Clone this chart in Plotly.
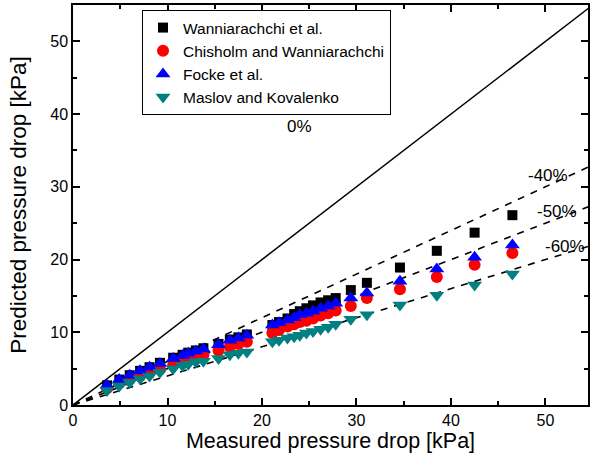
import plotly.graph_objects as go

measured = [3.6, 4.9, 6.0, 7.1, 8.1, 9.2, 10.6, 11.6, 12.2, 13.0, 13.8, 15.4, 16.6, 17.5, 18.4,
            21.1, 21.8, 22.7, 23.4, 24.0, 24.7, 25.4, 26.2, 27.0, 27.8, 29.4, 31.1, 34.6, 38.5, 42.5, 46.5]
wanniarachchi = [2.7, 3.5, 4.1, 4.7, 5.2, 5.8, 6.5, 6.9, 7.2, 7.5, 7.8, 8.4, 9.0, 9.3, 9.7,
                 11.0, 11.4, 11.9, 12.5, 12.9, 13.3, 13.7, 14.1, 14.4, 14.7, 15.8, 16.8, 18.9, 21.2, 23.7, 26.1]
chisholm = [2.3, 3.0, 3.5, 4.0, 4.4, 4.9, 5.5, 5.9, 6.2, 6.5, 6.9, 7.5, 8.0, 8.4, 8.7,
            9.9, 10.3, 10.8, 11.1, 11.4, 11.6, 11.9, 12.3, 12.6, 13.0, 13.6, 14.7, 15.9, 17.6, 19.3, 20.9]
focke = [2.7, 3.5, 4.1, 4.7, 5.2, 5.7, 6.4, 6.8, 7.1, 7.4, 7.7, 8.3, 8.9, 9.2, 9.6,
         11.0, 11.3, 11.7, 12.0, 12.4, 12.6, 12.9, 13.3, 13.6, 14.0, 14.7, 15.4, 17.0, 18.7, 20.3, 22.0]
maslov = [2.0, 2.6, 3.1, 3.6, 4.0, 4.5, 5.0, 5.4, 5.6, 5.9, 6.0, 6.4, 6.9, 7.1, 7.3,
          8.7, 8.9, 9.2, 9.4, 9.6, 9.9, 10.1, 10.4, 10.7, 11.1, 11.8, 12.4, 13.75, 15.1, 16.5, 18.0]

series_names = ["Wanniarachchi et al.", "Chisholm and Wanniarachchi", "Focke et al.", "Maslov and Kovalenko"]
series_values = [wanniarachchi, chisholm, focke, maslov]
series_colors = ["#000000", "#FF0000", "#0000FF", "#008080"]
series_symbols = ["square", "circle", "triangle-up", "triangle-down"]
series_sizes = [10, 12, 13, 13]

deviation_slopes = [0.6, 0.5, 0.4]
deviation_labels = ["-40%", "-50%", "-60%"]
line_x = [0, 55]
tick_vals = [0, 10, 20, 30, 40, 50]

FONT = "Liberation Sans, Arial, sans-serif"

fig = go.Figure()

# 0% line
fig.add_trace(go.Scatter(x=line_x, y=line_x, mode="lines", line=dict(color="black", width=1.5),
                         showlegend=False, hoverinfo="skip"))
for s in deviation_slopes:
    fig.add_trace(go.Scatter(x=line_x, y=[v * s for v in line_x], mode="lines",
                             line=dict(color="black", width=1.6, dash="7px,7px"),
                             showlegend=False, hoverinfo="skip"))

for name, vals, col, sym, sz in zip(series_names, series_values, series_colors, series_symbols, series_sizes):
    fig.add_trace(go.Scatter(x=measured, y=vals, mode="markers", name=name,
                             marker=dict(symbol=sym, color=col, size=sz, line=dict(width=0))))

annots = [dict(x=24.0, y=38.3, text="0%")]
ann_pos = [(50.3, 31.6), (51.2, 26.6), (52.1, 21.8)]
for (ax, ay), lab in zip(ann_pos, deviation_labels):
    annots.append(dict(x=ax, y=ay, text=lab))
for a in annots:
    a.update(xref="x", yref="y", showarrow=False, font=dict(family=FONT, size=17, color="black"))

axis_common = dict(showline=True, linecolor="black", linewidth=1.5, mirror="ticks", ticks="inside",
                   ticklen=7, tickwidth=1.5, tickcolor="black", showgrid=False, zeroline=False,
                   automargin=False,
                   tickvals=tick_vals, tickfont=dict(family=FONT, size=16, color="black"),
                   minor=dict(ticks="inside", ticklen=4, tickwidth=1.5, tickcolor="black", dtick=5, tick0=0,
                              showgrid=False))

fig.update_layout(
    width=591, height=461,
    margin=dict(l=73, r=3, t=5, b=56),
    paper_bgcolor="white", plot_bgcolor="white",
    font=dict(family=FONT, color="black"),
    xaxis=dict(range=[0, 54.5], title=dict(text="Measured pressure drop [kPa]",
                                           font=dict(family=FONT, size=21.5, color="black"), standoff=5),
               **axis_common),
    yaxis=dict(range=[0, 55], title=dict(text="Predicted pressure drop [kPa]",
                                         font=dict(family=FONT, size=22.5, color="black"), standoff=17),
               **axis_common),
    legend=dict(x=0.134, y=0.9875, xanchor="left", yanchor="top", bordercolor="black", borderwidth=1,
                bgcolor="white", font=dict(family=FONT, size=15.5, color="black"), tracegroupgap=0),
    annotations=annots,
)

fig.write_html("out.html", config={"displayModeBar": False},
               post_script="document.body.style.margin='0';")
